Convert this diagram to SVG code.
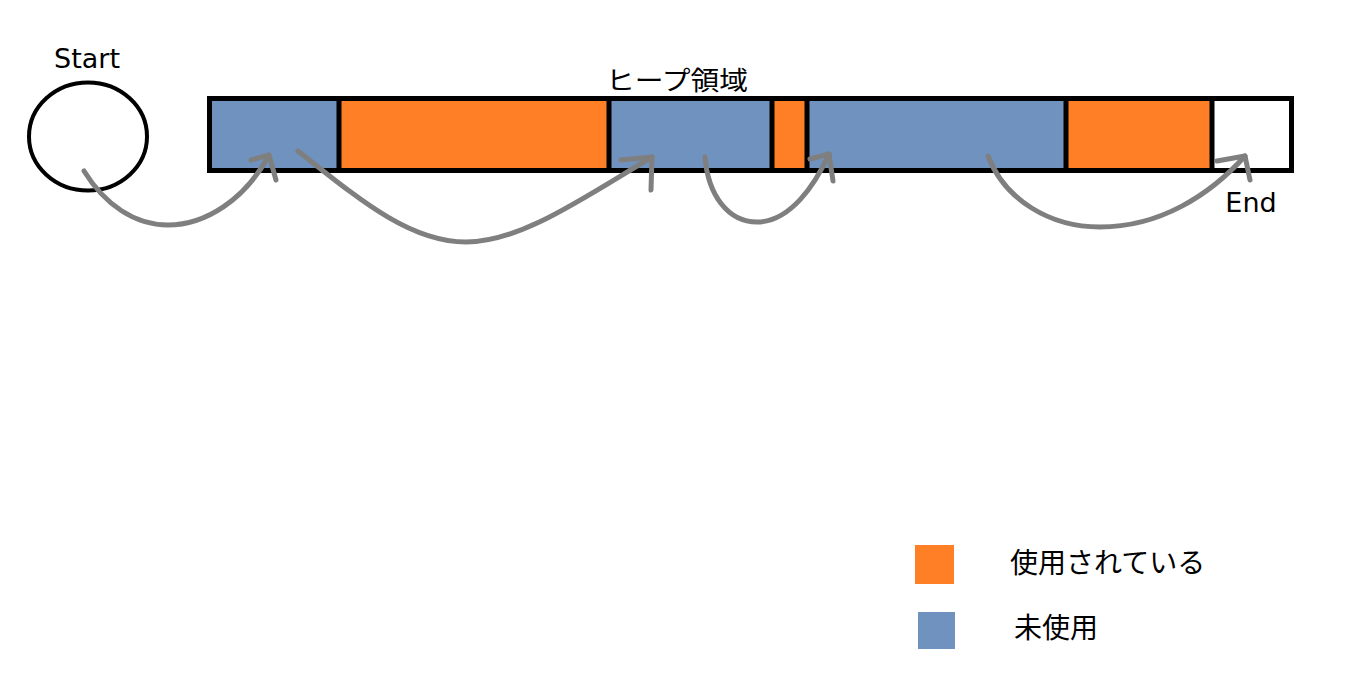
<svg xmlns="http://www.w3.org/2000/svg" width="1359" height="674" viewBox="0 0 1359 674">
<style>
.lbl{font-family:"DejaVu Sans","Noto Sans CJK JP",sans-serif;fill:#000}
.used{fill:#FF7F27}
.free{fill:#7092BE}
.div{stroke:#000;stroke-width:5}
.arr{fill:none;stroke:#7F7F7F;stroke-width:5;stroke-linecap:round;stroke-linejoin:round}
</style>
<rect width="1359" height="674" fill="#fff"/>
<g id="start">
<ellipse cx="88" cy="136.5" rx="59" ry="54" fill="none" stroke="#000" stroke-width="4"/>
<text class="lbl" x="87" y="68" font-size="27" text-anchor="middle">Start</text>
</g>
<g id="heap">
<rect class="free" x="209" y="98" width="130" height="73"/>
<rect class="used" x="339" y="98" width="270" height="73"/>
<rect class="free" x="609" y="98" width="163" height="73"/>
<rect class="used" x="772" y="98" width="35" height="73"/>
<rect class="free" x="807" y="98" width="259" height="73"/>
<rect class="used" x="1066" y="98" width="146" height="73"/>
<rect x="1212" y="98" width="80" height="73" fill="#fff"/>
<line class="div" x1="339" y1="98" x2="339" y2="171"/>
<line class="div" x1="609" y1="98" x2="609" y2="171"/>
<line class="div" x1="772" y1="98" x2="772" y2="171"/>
<line class="div" x1="807" y1="98" x2="807" y2="171"/>
<line class="div" x1="1066" y1="98" x2="1066" y2="171"/>
<line class="div" x1="1212" y1="98" x2="1212" y2="171"/>
<rect x="209.5" y="98.5" width="1082" height="72" fill="none" stroke="#000" stroke-width="5"/>
<text class="lbl" x="677" y="90" font-size="26" text-anchor="middle" textLength="142" lengthAdjust="spacingAndGlyphs">ヒープ領域</text>
</g>
<g id="end">
<text class="lbl" x="1251" y="212" font-size="27" text-anchor="middle">End</text>
</g>
<g id="connectors">
<path class="arr" d="M84,171 C105,205 135,225 168,225 C205,225 245,200 269,155"/>
<path class="arr" d="M251,160 L269,155 L276,180"/>
<path class="arr" d="M298,151 C360,200 410,242 466,242 C520,242 580,200 652,157"/>
<path class="arr" d="M621,160 L652,157 L651,190"/>
<path class="arr" d="M705,157 C708,195 728,222 757,222 C790,222 815,185 829,154"/>
<path class="arr" d="M810,159 L829,154 L833,181"/>
<path class="arr" d="M988,156 C1005,200 1050,227 1100,227 C1160,227 1210,195 1245,156"/>
<path class="arr" d="M1217,161 L1245,156 L1250,180"/>
</g>
<g id="legend-used">
<rect class="used" x="915" y="545" width="39" height="39"/>
<text class="lbl" x="1010" y="573" font-size="28">使用されている</text>
</g>
<g id="legend-free">
<rect class="free" x="918" y="612" width="37" height="37"/>
<text class="lbl" x="1014" y="638" font-size="28">未使用</text>
</g>
</svg>
